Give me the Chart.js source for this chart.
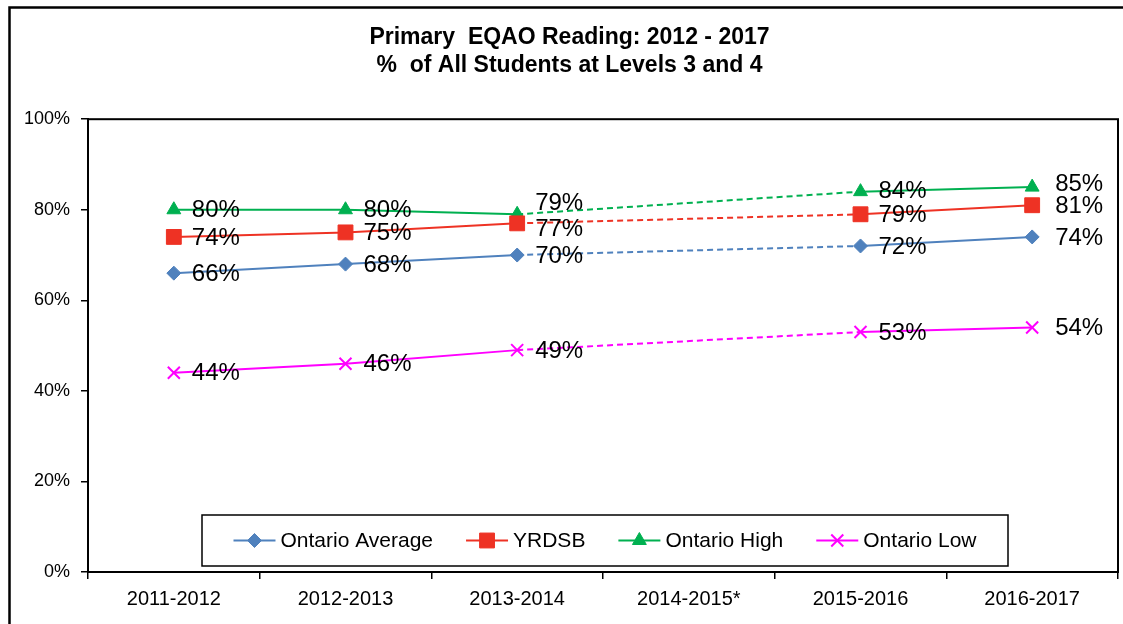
<!DOCTYPE html>
<html>
<head>
<meta charset="utf-8">
<script src="https://cdn.jsdelivr.net/npm/chart.js@4.4.0/dist/chart.umd.min.js"></script>
<style>
html,body{margin:0;padding:0;background:#fff;}
#wrap{width:1123px;height:624px;position:relative;}
</style>
</head>
<body>
<div id="wrap"><canvas id="c" width="1123" height="624"></canvas></div>
<script>
// ---- data ----
const categories = ['2011-2012', '2012-2013', '2013-2014', '2014-2015*', '2015-2016', '2016-2017'];
const ontarioAverage = [66, 68, 70, null, 72, 74];
const yrdsb = [74, 75, 77, null, 79, 81];
const ontarioHigh = [80, 80, 79, null, 84, 85];
const ontarioLow = [44, 46, 49, null, 53, 54];
const yTickValues = [0, 20, 40, 60, 80, 100];
const seriesNames = ['Ontario Average', 'YRDSB', 'Ontario High', 'Ontario Low'];
const titleLines = ['Primary  EQAO Reading: 2012 - 2017', '%  of All Students at Levels 3 and 4'];

const FONT = "'Liberation Sans', Arial, Helvetica, sans-serif";

function gapDash(data) {
  return ctx => {
    const gap = ctx.p0.skip || ctx.p1.skip || data[ctx.p0DataIndex] == null ||
      data[ctx.p1DataIndex] == null || (ctx.p1DataIndex - ctx.p0DataIndex) > 1;
    return gap ? [6, 4] : undefined;
  };
}

function mkSeries(label, data, color, style, radius) {
  return {
    label, data,
    borderColor: color, backgroundColor: color,
    borderWidth: 2,
    pointStyle: style, pointRadius: radius, pointHoverRadius: radius,
    pointBorderWidth: 1, pointBorderColor: color, pointBackgroundColor: color,
    spanGaps: true, tension: 0,
    segment: { borderDash: gapDash(data) }
  };
}

const datasets = [
  mkSeries(seriesNames[0], ontarioAverage, '#4F81BD', 'rectRot', 7),
  mkSeries(seriesNames[1], yrdsb, '#EE3224', 'rect', 10.5),
  mkSeries(seriesNames[2], ontarioHigh, '#00B050', 'triangle', 8),
  mkSeries(seriesNames[3], ontarioLow, '#FF00FF', 'crossRot', 8.5)
];
datasets[3].pointBorderWidth = 2;

// outer frame + plot frame
const framePlugin = {
  id: 'frames',
  beforeDraw(chart) {
    const c = chart.ctx;
    c.save();
    c.fillStyle = '#fff';
    c.fillRect(0, 0, chart.width, chart.height);
    c.strokeStyle = '#000';
    c.lineWidth = 2.5;
    c.strokeRect(9.5, 7.5, 1130, 640);
    c.restore();
  },
  afterDatasetsDraw(chart) {
    const a = chart.chartArea, c = chart.ctx;
    c.save();
    c.strokeStyle = '#000';
    c.lineWidth = 2;
    c.strokeRect(a.left, a.top, a.right - a.left, a.bottom - a.top);
    c.restore();
  }
};

// data labels
const labelPlugin = {
  id: 'valueLabels',
  afterDatasetsDraw(chart, args, opts) {
    const c = chart.ctx;
    c.save();
    c.font = '24px ' + FONT;
    c.fillStyle = '#000';
    c.textAlign = 'left';
    c.textBaseline = 'middle';
    chart.data.datasets.forEach((ds, di) => {
      const meta = chart.getDatasetMeta(di);
      meta.data.forEach((pt, i) => {
        const v = ds.data[i];
        if (v == null) return;
        const n = opts.nudges[di + '-' + i] || {};
        const dx = (i === ds.data.length - 1 ? opts.lastDx : opts.dx) + (n.dx || 0);
        const dy = opts.dy + (n.dy || 0);
        c.fillText(v + '%', pt.x + dx, pt.y + dy);
      });
    });
    c.restore();
  }
};

// legend box inside plot area
function drawMarker(c, style, r, x, y, color, bw) {
  if (Chart.helpers && Chart.helpers.drawPoint) {
    c.fillStyle = color; c.strokeStyle = color; c.lineWidth = bw;
    Chart.helpers.drawPoint(c, {pointStyle: style, radius: r, rotation: 0, borderWidth: bw}, x, y);
  }
}
const legendPlugin = {
  id: 'insideLegend',
  afterDraw(chart, args, opts) {
    const a = chart.chartArea, c = chart.ctx;
    const bx = a.left + opts.offsetX, bw = opts.width;
    const bh = opts.height, by = a.bottom - opts.bottomGap - bh;
    c.save();
    c.fillStyle = '#fff';
    c.fillRect(bx, by, bw, bh);
    c.strokeStyle = '#000';
    c.lineWidth = 1.5;
    c.strokeRect(bx, by, bw, bh);
    c.font = opts.fontSize + 'px ' + FONT;
    const symW = 42, symGap = 5, gap = opts.gap;
    const items = chart.data.datasets.map(ds => ({ds, w: c.measureText(ds.label).width}));
    let total = 0;
    items.forEach((it, k) => { total += symW + symGap + it.w + (k ? gap : 0); });
    let x = bx + (bw - total) / 2 + opts.shift;
    const cy = by + bh / 2;
    items.forEach(it => {
      const ds = it.ds;
      c.strokeStyle = ds.borderColor; c.lineWidth = 2; c.setLineDash([]);
      c.beginPath(); c.moveTo(x, cy); c.lineTo(x + symW, cy); c.stroke();
      drawMarker(c, ds.pointStyle, ds.pointRadius, x + symW / 2, cy, ds.borderColor, ds.pointBorderWidth);
      c.fillStyle = '#000';
      c.textAlign = 'left'; c.textBaseline = 'middle';
      c.fillText(ds.label, x + symW + symGap, cy + 1);
      x += symW + symGap + it.w + gap;
    });
    c.restore();
  }
};

new Chart(document.getElementById('c'), {
  type: 'line',
  data: { labels: categories, datasets },
  options: {
    responsive: false,
    animation: false,
    devicePixelRatio: 1,
    layout: { autoPadding: false, padding: { left: 21, right: 5, top: 0, bottom: 0 } },
    plugins: {
      legend: { display: false },
      tooltip: { enabled: false },
      title: {
        display: true,
        text: titleLines,
        color: '#000',
        font: { family: FONT, size: 23, weight: 'bold', lineHeight: 1.2 },
        padding: { top: 24, bottom: 40 }
      },
      valueLabels: { dx: 18, lastDx: 23, dy: 1, nudges: { '2-2': {dy: -12}, '1-2': {dy: 5}, '2-5': {dy: -4}, '2-4': {dy: -1} } },
      insideLegend: { offsetX: 114, width: 806, height: 51, bottomGap: 6, gap: 33, fontSize: 21, shift: 0 }
    },
    scales: {
      x: {
        type: 'category',
        offset: true,
        afterFit: s => { s.height = 52; },
        grid: { offset: true, drawOnChartArea: false, drawTicks: true, tickLength: 7, color: '#000', lineWidth: 1.5 },
        border: { display: true, color: '#000', width: 2 },
        ticks: { color: '#000', font: { family: FONT, size: 20 }, padding: 8, maxRotation: 0, autoSkip: false }
      },
      y: {
        min: 0, max: 100,
        afterFit: s => { s.width = 67; },
        afterBuildTicks: s => { s.ticks = yTickValues.map(v => ({ value: v })); },
        grid: { drawOnChartArea: false, drawTicks: true, tickLength: 7, color: '#000', lineWidth: 1.5 },
        border: { display: true, color: '#000', width: 2 },
        ticks: { color: '#000', font: { family: FONT, size: 18 }, padding: 11, callback: v => v + '%' }
      }
    }
  },
  plugins: [framePlugin, labelPlugin, legendPlugin]
});
</script>
</body>
</html>
